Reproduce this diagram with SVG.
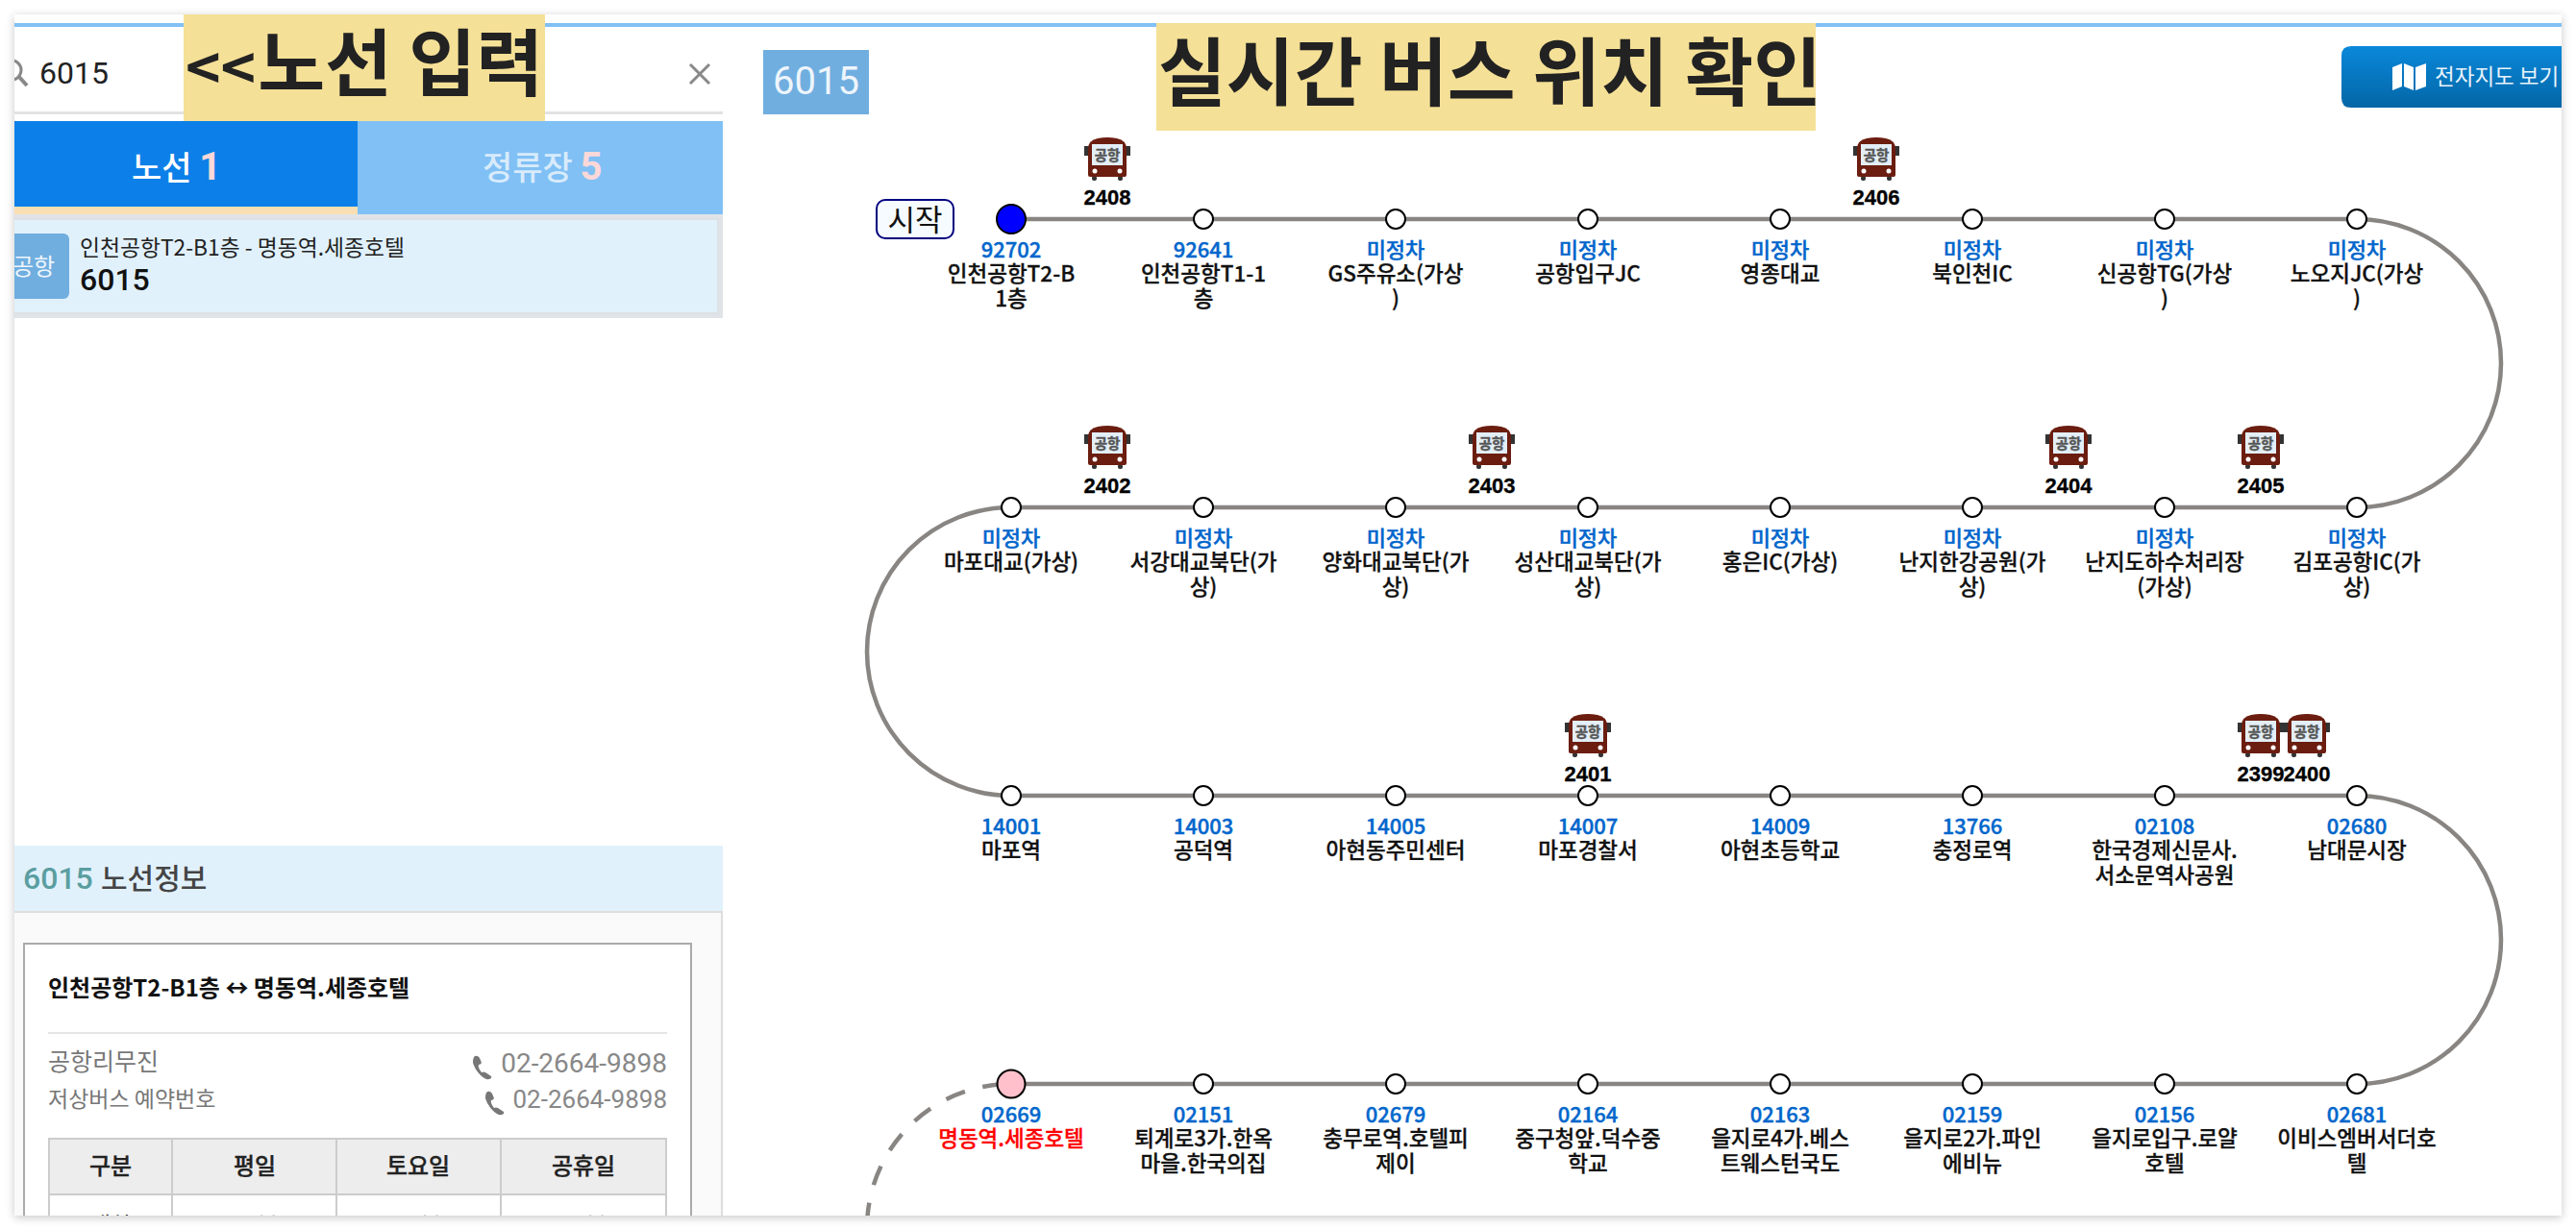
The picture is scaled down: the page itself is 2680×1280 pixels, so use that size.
<svg xmlns="http://www.w3.org/2000/svg" xmlns:xlink="http://www.w3.org/1999/xlink" width="2680" height="1280" viewBox="0 0 2680 1280">
<style>
text{font-family:"Noto Sans CJK KR","Noto Sans",sans-serif}
.ro{font-family:Roboto,"Noto Sans CJK KR",sans-serif}
.id{font-size:22px;font-weight:500;fill:#0066cc;stroke:#0066cc;stroke-width:.4px;text-anchor:middle}
.nm{font-size:22.5px;font-weight:500;fill:#111;stroke:#111;stroke-width:.3px;text-anchor:middle}
.nm.red{fill:#ff0000;stroke:#ff0000}
.no{font-family:"Liberation Sans",sans-serif;font-size:22px;font-weight:700;fill:#000;stroke:#000;stroke-width:.3px;text-anchor:middle}
.st{fill:#fff;stroke:#000;stroke-width:2}
.line{fill:none;stroke:#888582;stroke-width:4.5}
.th{font-size:24px;font-weight:500;fill:#222;stroke:#222;stroke-width:.3px;text-anchor:middle}
.td{font-size:24px;fill:#333;text-anchor:middle}
.ttl{font-weight:700;fill:#222}
.cell{fill:none;stroke:#ccc;stroke-width:2}
</style>
<defs>
<filter id="sh" x="-2%" y="-3%" width="104%" height="106%"><feDropShadow dx="0" dy="2" stdDeviation="5" flood-color="#000" flood-opacity=".22"/></filter>
<clipPath id="page"><rect x="15" y="15" width="2650" height="1250"/></clipPath>
<linearGradient id="btn" x1="0" y1="0" x2="0" y2="1"><stop offset="0" stop-color="#0a88da"/><stop offset="1" stop-color="#0366a6"/></linearGradient>
<g id="bus">
<rect x="-24" y="9" width="48" height="10" fill="#333"/>
<rect x="-16" y="40" width="5" height="5" rx="2" fill="#333"/><rect x="11" y="40" width="5" height="5" rx="2" fill="#333"/>
<path d="M-20 12Q-20 3-10 1Q0-1 10 1Q20 3 20 12V39Q20 41 18 41H-18Q-20 41-20 39Z" fill="#6b1d10"/>
<rect x="-16" y="7" width="32" height="22" fill="#e3eef6"/>
<text x="0" y="24" font-size="14.5" font-weight="700" fill="#555" stroke="#555" stroke-width=".4" text-anchor="middle">공항</text>
<circle cx="-13" cy="35" r="2.5" fill="#fff"/><circle cx="13" cy="35" r="2.5" fill="#fff"/>
</g>
<path id="phone" d="M2 2Q5-1 8 3L10 8Q9 10 7 10Q6 13 10 18Q12 17 14 18L20 22Q21 24 18 25Q14 26 9 21Q3 15 1 8Q1 4 2 2Z" fill="#777"/>
</defs>
<rect x="15" y="15" width="2650" height="1250" fill="#fff" filter="url(#sh)"/>
<g clip-path="url(#page)">
<rect x="15" y="24" width="2650" height="4" fill="#80c0f5"/>
<g id="search-box">
<rect x="15" y="116" width="737" height="3" fill="#e2e2e2"/>
<circle cx="12" cy="73" r="10" fill="none" stroke="#888" stroke-width="3"/>
<line x1="19" y1="79" x2="28" y2="89" stroke="#888" stroke-width="4"/>
<text class="ro" x="41" y="87" font-size="32" fill="#222">6015</text>
<path d="M718 67L738 87M738 67L718 87" stroke="#888" stroke-width="3" fill="none"/>
</g>
<g id="tabs">
<rect x="15" y="126" width="357" height="89" fill="#0c80e8"/>
<rect x="15" y="215" width="357" height="8" fill="#fbdfb4"/>
<rect x="372" y="126" width="380" height="97" fill="#80c0f5"/>
<text x="137" y="187" font-size="34" font-weight="500" fill="#fff">노선 <tspan class="ro" fill="#fdd8d8" font-weight="700" font-size="40">1</tspan></text>
<text x="502" y="187" font-size="34" font-weight="500" fill="#d8ebfb">정류장 <tspan class="ro" fill="#fdd8d8" font-weight="700" font-size="40">5</tspan></text>
</g>
<g id="route-item">
<rect x="15" y="223" width="737" height="108" fill="#e0e4e8"/>
<rect x="15" y="228" width="732" height="98" fill="#e1f1fc"/>
<path d="M15 228H747V326H15" fill="none" stroke="#dde1e5" stroke-width="2"/>
<rect x="5" y="243" width="67" height="68" rx="6" fill="#70aee0"/>
<text x="35" y="286" font-size="24" fill="#eef5fb" text-anchor="middle">공항</text>
<text x="83" y="266" font-size="22.8" fill="#222">인천공항T2-B1층 - 명동역.세종호텔</text>
<text class="ro" x="83" y="302" font-size="32" font-weight="500" fill="#111">6015</text>
</g>
<g id="route-info">
<rect x="15" y="950" width="737" height="315" fill="#fafafa"/>
<rect x="750" y="950" width="2" height="315" fill="#ddd"/>
<rect x="15" y="880" width="737" height="68" fill="#e1f1fc"/>
<rect x="15" y="948" width="737" height="2" fill="#ddd"/>
<text class="ro" x="24" y="925" font-size="32" font-weight="500" fill="#5a9ea0">6015</text>
<text x="105" y="925" font-size="30" font-weight="500" fill="#444">노선정보</text>
<rect x="25" y="982" width="694" height="300" fill="#fff" stroke="#aaa" stroke-width="2"/>
<text x="50" y="1037" font-size="24" font-weight="700" fill="#111">인천공항T2-B1층 ↔ 명동역.세종호텔</text>
<rect x="50" y="1074" width="644" height="2" fill="#e5e5e5"/>
<text x="50" y="1114" font-size="25" fill="#777">공항리무진</text>
<text x="50" y="1152" font-size="23" fill="#777">저상버스 예약번호</text>
<use xlink:href="#phone" href="#phone" x="491" y="1098"/>
<use xlink:href="#phone" href="#phone" x="504" y="1135"/>
<text class="ro" x="694" y="1116" font-size="28" fill="#888" text-anchor="end">02-2664-9898</text>
<text class="ro" x="694" y="1153" font-size="26" fill="#888" text-anchor="end">02-2664-9898</text>
<rect x="51" y="1185" width="642" height="58" fill="#ededed"/>
<path class="cell" d="M51 1185H693V1285H51ZM51 1243H693M179 1185V1285M350 1185V1285M521 1185V1285"/>
<text class="th" x="115" y="1222">구분</text><text class="th" x="265" y="1222">평일</text><text class="th" x="435" y="1222">토요일</text><text class="th" x="607" y="1222">공휴일</text>
<text class="td" x="115" y="1284">배차</text><text class="td" x="265" y="1284">10분</text><text class="td" x="435" y="1284">10분</text><text class="td" x="607" y="1284">10분</text>
</g>
<g id="route-no">
<rect x="794" y="52" width="110" height="67" fill="#70aee0"/>
<text class="ro" x="849" y="98" font-size="40" fill="#eef5fb" text-anchor="middle">6015</text>
</g>
<g id="map-button">
<path d="M2665 48H2446Q2436 48 2436 58V102Q2436 112 2446 112H2665Z" fill="url(#btn)"/>
<path d="M2489 70L2499 66V90L2489 94ZM2501 66L2511 70V94L2501 90ZM2513 70L2524 66V90L2513 94Z" fill="#fff"/>
<text x="2533" y="88" font-size="22.5" fill="#e8f3fb">전자지도 보기</text>
</g>
<g id="connectors">
<path class="line" d="M1052 228H2452A150 150 0 0 1 2452 528H1052A150 150 0 0 0 1052 828H2452A150 150 0 0 1 2452 1128H1052"/>
<path class="line" stroke-dasharray="21 19" stroke-dashoffset="31" d="M1052 1128A150 150 0 0 0 902 1278"/>
</g>
<g id="start-tag">
<rect x="912" y="208" width="80" height="40" rx="9" fill="#f5fbff" stroke="#00007f" stroke-width="2"/>
<text x="952" y="240" font-size="31" fill="#111" text-anchor="middle">시작</text>
</g>
<g id="s1"><circle cx="1052" cy="228" r="15" fill="#0000ff" stroke="#000" stroke-width="2"/><text class="id" x="1052" y="268">92702</text><text class="nm" x="1052" y="293">인천공항T2-B</text><text class="nm" x="1052" y="319">1층</text></g>
<g id="s2"><circle class="st" cx="1252" cy="228" r="10"/><text class="id" x="1252" y="268">92641</text><text class="nm" x="1252" y="293">인천공항T1-1</text><text class="nm" x="1252" y="319">층</text></g>
<g id="s3"><circle class="st" cx="1452" cy="228" r="10"/><text class="id" x="1452" y="268">미정차</text><text class="nm" x="1452" y="293">GS주유소(가상</text><text class="nm" x="1452" y="319">)</text></g>
<g id="s4"><circle class="st" cx="1652" cy="228" r="10"/><text class="id" x="1652" y="268">미정차</text><text class="nm" x="1652" y="293">공항입구JC</text></g>
<g id="s5"><circle class="st" cx="1852" cy="228" r="10"/><text class="id" x="1852" y="268">미정차</text><text class="nm" x="1852" y="293">영종대교</text></g>
<g id="s6"><circle class="st" cx="2052" cy="228" r="10"/><text class="id" x="2052" y="268">미정차</text><text class="nm" x="2052" y="293">북인천IC</text></g>
<g id="s7"><circle class="st" cx="2252" cy="228" r="10"/><text class="id" x="2252" y="268">미정차</text><text class="nm" x="2252" y="293">신공항TG(가상</text><text class="nm" x="2252" y="319">)</text></g>
<g id="s8"><circle class="st" cx="2452" cy="228" r="10"/><text class="id" x="2452" y="268">미정차</text><text class="nm" x="2452" y="293">노오지JC(가상</text><text class="nm" x="2452" y="319">)</text></g>
<g id="s9"><circle class="st" cx="1052" cy="528" r="10"/><text class="id" x="1052" y="568">미정차</text><text class="nm" x="1052" y="593">마포대교(가상)</text></g>
<g id="s10"><circle class="st" cx="1252" cy="528" r="10"/><text class="id" x="1252" y="568">미정차</text><text class="nm" x="1252" y="593">서강대교북단(가</text><text class="nm" x="1252" y="619">상)</text></g>
<g id="s11"><circle class="st" cx="1452" cy="528" r="10"/><text class="id" x="1452" y="568">미정차</text><text class="nm" x="1452" y="593">양화대교북단(가</text><text class="nm" x="1452" y="619">상)</text></g>
<g id="s12"><circle class="st" cx="1652" cy="528" r="10"/><text class="id" x="1652" y="568">미정차</text><text class="nm" x="1652" y="593">성산대교북단(가</text><text class="nm" x="1652" y="619">상)</text></g>
<g id="s13"><circle class="st" cx="1852" cy="528" r="10"/><text class="id" x="1852" y="568">미정차</text><text class="nm" x="1852" y="593">홍은IC(가상)</text></g>
<g id="s14"><circle class="st" cx="2052" cy="528" r="10"/><text class="id" x="2052" y="568">미정차</text><text class="nm" x="2052" y="593">난지한강공원(가</text><text class="nm" x="2052" y="619">상)</text></g>
<g id="s15"><circle class="st" cx="2252" cy="528" r="10"/><text class="id" x="2252" y="568">미정차</text><text class="nm" x="2252" y="593">난지도하수처리장</text><text class="nm" x="2252" y="619">(가상)</text></g>
<g id="s16"><circle class="st" cx="2452" cy="528" r="10"/><text class="id" x="2452" y="568">미정차</text><text class="nm" x="2452" y="593">김포공항IC(가</text><text class="nm" x="2452" y="619">상)</text></g>
<g id="s17"><circle class="st" cx="1052" cy="828" r="10"/><text class="id" x="1052" y="868">14001</text><text class="nm" x="1052" y="893">마포역</text></g>
<g id="s18"><circle class="st" cx="1252" cy="828" r="10"/><text class="id" x="1252" y="868">14003</text><text class="nm" x="1252" y="893">공덕역</text></g>
<g id="s19"><circle class="st" cx="1452" cy="828" r="10"/><text class="id" x="1452" y="868">14005</text><text class="nm" x="1452" y="893">아현동주민센터</text></g>
<g id="s20"><circle class="st" cx="1652" cy="828" r="10"/><text class="id" x="1652" y="868">14007</text><text class="nm" x="1652" y="893">마포경찰서</text></g>
<g id="s21"><circle class="st" cx="1852" cy="828" r="10"/><text class="id" x="1852" y="868">14009</text><text class="nm" x="1852" y="893">아현초등학교</text></g>
<g id="s22"><circle class="st" cx="2052" cy="828" r="10"/><text class="id" x="2052" y="868">13766</text><text class="nm" x="2052" y="893">충정로역</text></g>
<g id="s23"><circle class="st" cx="2252" cy="828" r="10"/><text class="id" x="2252" y="868">02108</text><text class="nm" x="2252" y="893">한국경제신문사.</text><text class="nm" x="2252" y="919">서소문역사공원</text></g>
<g id="s24"><circle class="st" cx="2452" cy="828" r="10"/><text class="id" x="2452" y="868">02680</text><text class="nm" x="2452" y="893">남대문시장</text></g>
<g id="s25"><circle cx="1052" cy="1128" r="14.5" fill="#ffc0cb" stroke="#000" stroke-width="2"/><text class="id" x="1052" y="1168">02669</text><text class="nm red" x="1052" y="1193">명동역.세종호텔</text></g>
<g id="s26"><circle class="st" cx="1252" cy="1128" r="10"/><text class="id" x="1252" y="1168">02151</text><text class="nm" x="1252" y="1193">퇴계로3가.한옥</text><text class="nm" x="1252" y="1219">마을.한국의집</text></g>
<g id="s27"><circle class="st" cx="1452" cy="1128" r="10"/><text class="id" x="1452" y="1168">02679</text><text class="nm" x="1452" y="1193">충무로역.호텔피</text><text class="nm" x="1452" y="1219">제이</text></g>
<g id="s28"><circle class="st" cx="1652" cy="1128" r="10"/><text class="id" x="1652" y="1168">02164</text><text class="nm" x="1652" y="1193">중구청앞.덕수중</text><text class="nm" x="1652" y="1219">학교</text></g>
<g id="s29"><circle class="st" cx="1852" cy="1128" r="10"/><text class="id" x="1852" y="1168">02163</text><text class="nm" x="1852" y="1193">을지로4가.베스</text><text class="nm" x="1852" y="1219">트웨스턴국도</text></g>
<g id="s30"><circle class="st" cx="2052" cy="1128" r="10"/><text class="id" x="2052" y="1168">02159</text><text class="nm" x="2052" y="1193">을지로2가.파인</text><text class="nm" x="2052" y="1219">에비뉴</text></g>
<g id="s31"><circle class="st" cx="2252" cy="1128" r="10"/><text class="id" x="2252" y="1168">02156</text><text class="nm" x="2252" y="1193">을지로입구.로얄</text><text class="nm" x="2252" y="1219">호텔</text></g>
<g id="s32"><circle class="st" cx="2452" cy="1128" r="10"/><text class="id" x="2452" y="1168">02681</text><text class="nm" x="2452" y="1193">이비스엠버서더호</text><text class="nm" x="2452" y="1219">텔</text></g>
<g id="bus2408"><use xlink:href="#bus" href="#bus" x="1152" y="143"/><text class="no" x="1152" y="213">2408</text></g>
<g id="bus2406"><use xlink:href="#bus" href="#bus" x="1952" y="143"/><text class="no" x="1952" y="213">2406</text></g>
<g id="bus2402"><use xlink:href="#bus" href="#bus" x="1152" y="443"/><text class="no" x="1152" y="513">2402</text></g>
<g id="bus2403"><use xlink:href="#bus" href="#bus" x="1552" y="443"/><text class="no" x="1552" y="513">2403</text></g>
<g id="bus2404"><use xlink:href="#bus" href="#bus" x="2152" y="443"/><text class="no" x="2152" y="513">2404</text></g>
<g id="bus2405"><use xlink:href="#bus" href="#bus" x="2352" y="443"/><text class="no" x="2352" y="513">2405</text></g>
<g id="bus2401"><use xlink:href="#bus" href="#bus" x="1652" y="743"/><text class="no" x="1652" y="813">2401</text></g>
<g id="bus2399"><use xlink:href="#bus" href="#bus" x="2352" y="743"/><text class="no" x="2352" y="813">2399</text></g>
<g id="bus2400"><use xlink:href="#bus" href="#bus" x="2400" y="743"/><text class="no" x="2400" y="813">2400</text></g>
</g>
<g id="callout-left">
<rect x="191" y="15" width="376" height="111" fill="#f5e097"/>
<text class="ttl" x="193" y="94" font-size="76"><tspan font-size="62">&lt;&lt;</tspan><tspan dx="2">노선 입력</tspan></text>
</g>
<g id="callout-right">
<rect x="1203" y="24" width="686" height="112" fill="#f5e097"/>
<text class="ttl" x="1205" y="104" font-size="77">실시간 버스 위치 확인</text>
</g>
</svg>
